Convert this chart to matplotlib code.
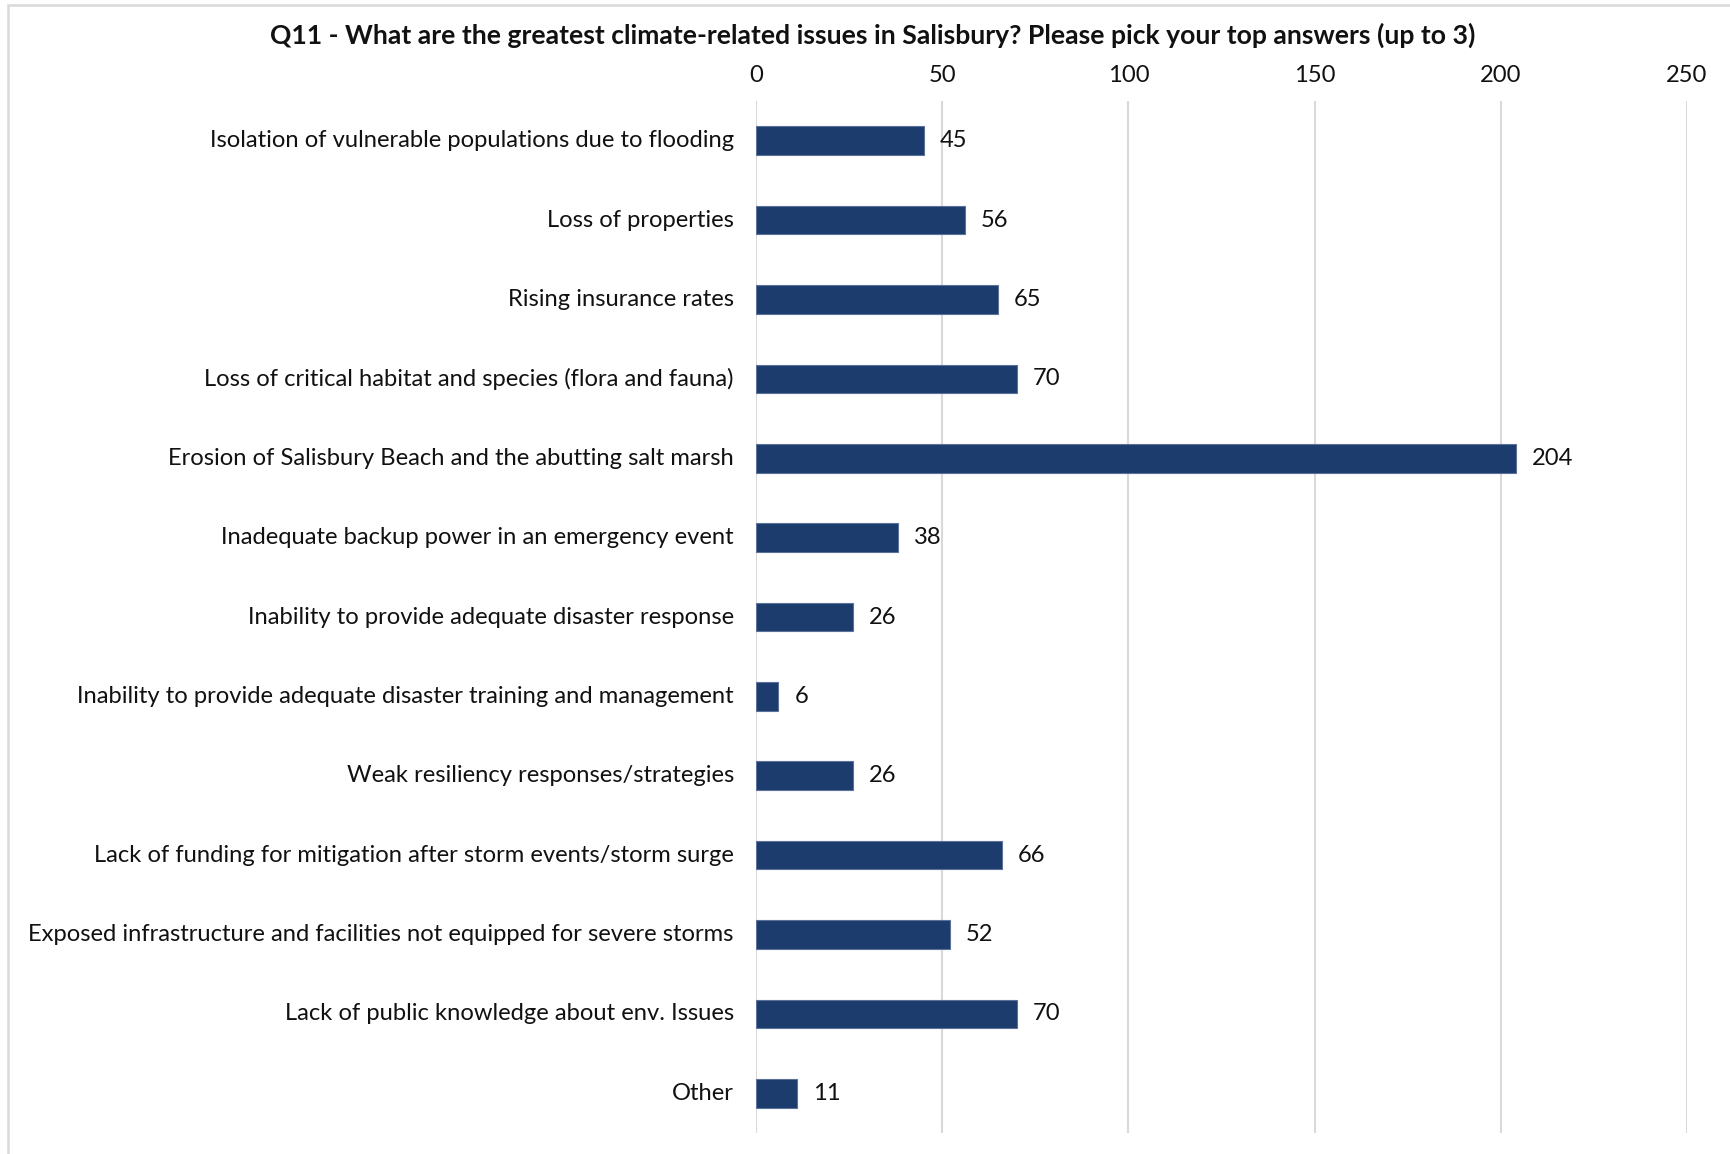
import matplotlib
matplotlib.use("Agg")
import matplotlib.pyplot as plt
from matplotlib.patches import Rectangle

plt.rcParams['font.family'] = ['Lato', 'DejaVu Sans']

categories = [
    "Isolation of vulnerable populations due to flooding",
    "Loss of properties",
    "Rising insurance rates",
    "Loss of critical habitat and species (flora and fauna)",
    "Erosion of Salisbury Beach and the abutting salt marsh",
    "Inadequate backup power in an emergency event",
    "Inability to provide adequate disaster response",
    "Inability to provide adequate disaster training and management",
    "Weak resiliency responses/strategies",
    "Lack of funding for mitigation after storm events/storm surge",
    "Exposed infrastructure and facilities not equipped for severe storms",
    "Lack of public knowledge about env. Issues",
    "Other",
]
counts = [45, 56, 65, 70, 204, 38, 26, 6, 26, 66, 52, 70, 11]
x_ticks = [0, 50, 100, 150, 200, 250]
title = ("Q11 - What are the greatest climate-related issues in Salisbury? "
         "Please pick your top answers (up to 3)")

W, H = 1731, 1154
fig = plt.figure(figsize=(W / 100, H / 100), dpi=100)

# axes placement in pixels
left, right, top, bottom = 756, 1687, 101, 1133
ax = fig.add_axes([left / W, 1 - bottom / H, (right - left) / W, (bottom - top) / H])

FS = 17.1
ypos = list(range(len(categories)))
ax.barh(ypos, counts, height=0.36, color="#1c3c6e", edgecolor="#5b719a",
        linewidth=0.8, zorder=3)
for y, v in zip(ypos, counts):
    ax.annotate(str(v), (v, y), xytext=(11.5, 0), textcoords="offset points",
                ha="left", va="center", fontsize=FS, color="#111111")

ax.set_xlim(0, 250)
ax.set_ylim(len(categories) - 0.5, -0.5)
ax.set_xticks(x_ticks)
ax.set_xticklabels([str(t) for t in x_ticks])
ax.set_yticks(ypos)
ax.set_yticklabels(categories, va="center")
ax.xaxis.tick_top()
ax.tick_params(axis="x", length=0, pad=11, labelsize=FS, labelcolor="#111111")
ax.tick_params(axis="y", length=0, pad=16, labelsize=FS, labelcolor="#111111")
ax.grid(axis="x", color="#d9d9d9", linewidth=1.5, zorder=0)
for s in ax.spines.values():
    s.set_visible(False)

fig.text(873 / W, 1 - 35 / H, title, ha="center", va="center",
         fontsize=19.1, fontweight="bold", color="#111111")

# outer chart frame
fig.patches.append(Rectangle((8 / W, -0.1), 1.2, 1 - 5 / H + 0.1,
                             transform=fig.transFigure, fill=False,
                             edgecolor="#d9d9d9", linewidth=1.8))

fig.savefig("out.png", dpi=100, facecolor="white")
